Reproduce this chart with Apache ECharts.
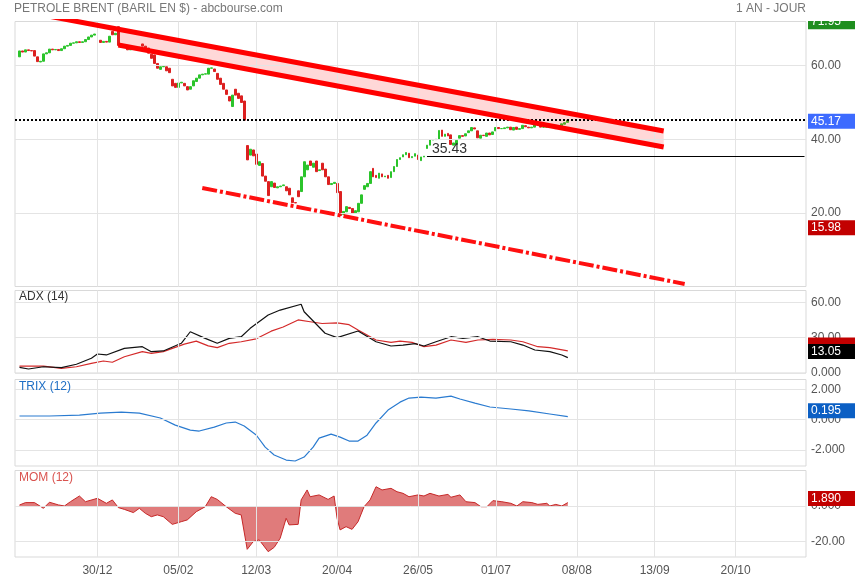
<!DOCTYPE html>
<html><head><meta charset="utf-8">
<script src="https://cdn.jsdelivr.net/npm/echarts@6/dist/echarts.min.js"></script>
<style>html,body{margin:0;padding:0;background:#fff}#c{width:855px;height:580px}</style>
</head><body><div id="c"></div>
<script>
// ---------- DATA ----------
const barCount = 264;               // daily slots on the axis (weekdays)
const firstIndex = 1;               // slot of the first candle
const dateTicks = [[27,'30/12'],[54,'05/02'],[80,'12/03'],[107,'20/04'],[134,'26/05'],[160,'01/07'],[187,'08/08'],[213,'13/09'],[240,'20/10']];
// [open, close, low, high]
const candles = [
[62.4,64.0,62.2,64.3],[64.0,63.7,63.4,64.2],[63.7,64.3,63.5,64.6],[64.3,64.1,63.8,64.5],[64.1,64.0,63.6,64.3],
[64.1,62.6,62.4,64.2],[62.4,61.1,60.8,62.6],[61.0,61.2,60.4,62.4],[61.2,63.2,61.0,63.4],[63.2,63.5,62.8,63.9],
[63.5,64.5,63.3,64.8],[64.5,64.3,64.0,64.7],[64.3,64.4,63.9,64.7],[64.4,64.1,63.6,64.6],[64.1,64.6,63.9,64.9],
[64.6,65.3,64.4,65.6],[65.3,65.5,65.0,65.8],[65.5,66.1,65.3,66.3],[66.1,66.2,65.8,66.5],[66.2,66.5,65.9,66.8],
[66.5,66.3,66.0,66.7],[66.3,66.5,66.1,66.8],[66.5,67.1,66.3,67.3],[67.1,67.8,66.9,68.0],[67.8,68.3,67.6,68.6],
[68.3,68.6,68.0,68.9],null,[66.9,66.3,66.0,67.2],[66.3,66.6,66.0,66.9],[66.6,66.4,66.1,67.0],
[66.4,68.0,66.2,68.4],[69.3,68.4,68.1,70.0],[68.4,68.8,68.0,69.3],[70.6,65.5,65.2,71.95],[65.8,65.5,65.1,66.2],
[65.6,65.3,64.9,65.9],[65.3,64.3,64.1,65.5],[64.3,64.5,64.0,64.9],[64.5,64.4,63.9,64.8],[64.4,64.9,64.2,65.1],
[64.9,65.0,64.6,65.4],[65.9,65.3,65.1,66.1],[65.3,64.6,64.3,65.5],[64.8,63.4,63.2,65.0],[63.1,62.0,61.7,63.3],
[62.9,60.6,60.3,63.0],[60.6,59.3,59.0,60.8],[59.0,59.7,58.7,60.0],[59.7,59.8,59.3,60.6],[59.7,58.6,58.3,60.0],
[59.3,58.1,57.8,59.5],[56.3,54.5,54.2,56.6],[55.2,54.1,53.8,55.5],[54.1,55.3,53.9,55.6],[55.3,55.5,55.0,56.0],
[55.2,54.5,54.2,55.5],[54.3,53.4,53.1,54.5],[53.6,54.3,53.4,54.6],[54.5,55.9,54.3,56.1],[55.7,56.6,55.5,56.9],
[56.6,57.5,56.4,57.7],[57.5,57.7,57.2,57.9],[57.7,57.8,57.4,58.1],[57.7,59.3,57.5,59.5],[59.3,59.4,59.0,60.0],
[59.1,58.4,58.2,59.4],[57.9,56.3,56.1,58.1],[56.6,54.9,54.7,56.8],[55.2,53.6,53.3,55.4],[53.4,52.2,51.9,53.6],
[51.6,50.4,49.3,51.8],[48.9,52.0,48.6,52.3],[53.6,52.0,51.7,53.9],[52.5,51.1,50.8,52.8],[51.8,50.0,49.7,52.0],
[50.4,45.2,45.0,50.6],[38.3,34.4,31.2,38.6],[35.7,37.3,35.3,39.8],[37.1,35.5,34.8,38.5],[36.0,33.2,32.0,36.4],
[32.9,33.9,31.5,35.9],[33.4,30.0,29.5,34.0],[30.0,28.6,28.0,30.8],[28.5,24.7,24.5,29.5],[27.1,28.5,24.6,28.8],
[28.1,26.9,25.0,30.0],[26.8,27.1,24.6,27.8],[27.1,27.3,26.6,28.0],[27.4,27.6,26.8,28.5],[27.1,26.0,25.8,27.5],
[26.7,24.9,24.7,27.0],[24.1,22.8,22.6,24.4],[22.8,22.7,22.3,23.6],[26.0,24.4,24.0,26.3],[25.8,29.8,24.5,36.2],
[29.8,33.9,29.4,36.2],[31.7,33.0,31.0,34.5],[34.1,32.9,31.5,34.9],[32.4,33.5,31.8,34.0],[34.1,31.2,30.5,36.9],
[31.5,31.7,31.1,32.0],[33.5,31.7,31.0,33.9],[31.9,29.8,29.5,32.2],[29.8,27.7,27.3,30.0],[27.7,28.0,27.0,28.8],
[28.0,28.3,27.4,29.0],[28.0,25.5,25.1,28.4],[25.8,19.3,18.3,26.0],[19.6,20.4,15.98,21.1],[20.3,21.7,19.9,22.2],
[21.5,21.2,20.5,21.9],[21.2,19.9,19.6,21.5],[20.0,20.6,19.4,21.2],[20.3,22.6,20.1,23.0],[22.6,24.9,22.4,25.4],
[26.4,27.4,25.8,27.7],[27.1,28.0,26.5,28.4],[28.0,31.2,27.8,31.5],[32.1,29.8,29.5,32.4],[30.2,29.6,29.0,30.9],
[29.4,30.8,29.2,31.2],[30.6,29.8,29.4,31.0],[29.8,30.0,29.3,30.5],[30.2,29.4,28.9,30.6],[29.6,31.2,29.4,31.5],
[31.2,32.6,30.9,32.9],[32.6,34.5,32.4,34.9],[34.5,35.0,34.0,35.5],[35.2,35.8,34.8,36.2],[35.8,36.4,35.5,36.8],
[36.2,35.0,34.4,36.3],[35.0,35.3,34.8,35.6],[35.4,36.1,35.1,36.5],[35.7,34.5,34.0,35.9],[34.2,35.2,33.9,35.4],
[35.2,35.4,34.8,35.7],[37.5,38.4,37.2,38.6],[38.4,39.8,38.1,40.0],[39.8,39.9,39.2,40.6],[39.9,40.0,39.3,40.5],
[40.0,42.4,39.8,42.9],[42.5,40.8,40.5,43.2],[40.8,41.4,40.2,41.7],[41.6,40.9,40.4,41.9],[41.2,38.6,38.3,41.4],
[38.4,39.0,37.8,39.9],[38.6,39.7,38.3,40.0],[40.3,41.0,40.0,41.5],[41.0,40.8,40.4,41.3],[40.9,41.5,40.5,41.8],
[41.8,42.3,41.4,42.8],[42.3,43.2,42.0,43.6],[43.1,42.8,42.4,43.8],[42.3,40.4,40.2,42.6],[40.3,41.1,39.8,41.3],
[41.1,41.0,40.5,41.6],[40.8,41.7,40.4,41.9],[41.7,41.2,40.9,42.1],[41.3,42.0,41.0,42.4],[42.3,43.2,42.0,43.5],
[43.2,42.9,42.5,43.4],[42.9,42.9,42.4,43.5],[42.9,43.1,42.6,43.4],[43.1,43.3,42.7,43.6],[43.3,42.6,42.2,43.5],
[42.5,43.2,42.1,43.4],[43.3,42.7,42.5,43.7],[42.7,42.9,42.3,43.1],[42.9,43.8,42.8,44.1],[43.7,43.4,43.0,43.9],
[43.3,43.1,42.8,43.6],[43.1,43.3,42.9,43.7],[43.3,44.3,43.1,44.6],[44.3,44.3,43.8,44.6],[44.3,43.3,43.0,44.5],
[43.3,43.3,42.9,43.6],[43.3,43.4,43.0,43.8],[43.5,43.2,42.9,43.8],[43.3,43.8,43.1,44.0],[43.8,42.9,42.6,43.9],
[42.9,43.3,42.4,43.5],[43.5,44.2,43.4,44.4],[44.1,44.5,43.8,44.8],[44.6,45.17,44.4,46.0]
];
const lastPrice = 45.17, periodHigh = 71.95, periodLow = 15.98;
const refLevel = 35.43, refStart = 137;
const channelUpper = [[0,75.1],[34,69.9],[216,42.26]];
const channelLower = [[34,65.6],[216,37.9]];
const supportLine = [[62,26.77],[223,0.7]];

const adxLine = [[1,4.8],[4,3.4],[9,5.3],[15,4.5],[20,7.4],[25,12.5],[27,16.1],[30,15.3],[36,20.9],[42,22.3],[45,18.1],[49,18.7],[55,25.2],[58,35],[63,29.4],[67,25.2],[71,29.4],[75,30.8],[78,37.9],[84,49.2],[88,53.4],[95,58.3],[96,52],[103,33.7],[107,30],[114,35.6],[120,26.5],[125,22.9],[129,23.7],[133,24.9],[136,22.9],[140,26.5],[145,30.8],[149,29.4],[154,30.8],[158,27.1],[165,26.5],[169,23.7],[173,19.5],[178,18.1],[182,15.3],[184,13.05]];
const adxSignal = [[1,5.9],[9,5.9],[15,4],[20,5.3],[25,8.2],[29,10.2],[32,9.1],[36,13.8],[42,18.1],[45,16.7],[49,18.1],[56,24.5],[60,27.0],[64,23.0],[67,21.5],[71,25.2],[75,26.5],[80,29],[85,35.5],[89,39.0],[94,45.0],[98,43.5],[102,42.0],[107,42.5],[111,41.0],[114,36.5],[120,28],[125,26],[128,27.1],[132,26],[136,22.3],[140,23.7],[145,28],[150,26],[154,28],[159,28.6],[165,28],[169,26.5],[174,22.3],[178,21.5],[184,18.7]];
const trixLine = [[1,0.24],[11,0.24],[21,0.30],[28,0.43],[35,0.50],[41,0.43],[48,0.11],[53,-0.36],[58,-0.69],[61,-0.75],[66,-0.49],[70,-0.22],[73,-0.16],[76,-0.42],[80,-1.01],[83,-1.81],[86,-2.33],[90,-2.66],[93,-2.72],[96,-2.46],[99,-1.81],[101,-1.22],[105,-0.95],[108,-1.15],[111,-1.41],[114,-1.41],[117,-1.02],[120,-0.22],[124,0.63],[128,1.15],[131,1.42],[135,1.48],[140,1.42],[145,1.55],[148,1.36],[153,1.09],[158,0.83],[165,0.70],[171,0.57],[178,0.37],[184,0.195]];
const momLine = [[1,0.56],[3,1.9],[6,1.9],[9,-1.3],[11,2.1],[14,0.6],[16,0],[18,2.4],[21,5.6],[23,2.4],[27,4.3],[30,1.5],[32,3.4],[34,-0.9],[36,-1.9],[39,-3.7],[41,-1.3],[43,-4.1],[45,-6],[47,-5],[49,-6],[52,-10.3],[55,-8.8],[57,-7.8],[60,-3.2],[63,-0.4],[65,5.2],[67,3.7],[70,-0.4],[73,-4.1],[75,-5],[77,-24.3],[79,-20],[81,-19],[84,-25.6],[86,-23.2],[88,-18.1],[90,-6.9],[91,-10.6],[94,-10.3],[95,3.4],[97,9],[98,5.2],[101,6.2],[104,3.7],[106,5.6],[107,-6.9],[108,-13.4],[110,-11.6],[112,-13.1],[114,-8.8],[116,-0.4],[118,3.4],[120,10.8],[122,9],[125,9.9],[127,8],[129,7.1],[131,5.2],[134,6.2],[136,5.6],[138,7.1],[141,5.6],[144,6.5],[145,4.9],[148,6.2],[150,2.4],[153,1.9],[155,-0.4],[157,-0.4],[159,3],[162,2.4],[165,1.5],[167,0],[169,2.4],[172,1.9],[174,0.9],[177,1.5],[178,0],[180,0.9],[182,0],[184,1.89]];

const mainTicks = [20,40,60], adxTicks = [0,30,60], trixTicks = [2,0,-2], momTicks = [0,-20];

// ---------- CHART ----------
const FONT = 'Arial, "Liberation Sans", sans-serif';
const chart = echarts.init(document.getElementById('c'));
const tickMap = new Map(dateTicks);
const cats = Array.from({length: barCount}, (_, i) => String(i));
const slots = Array.from({length: barCount}, (_, i) => {
  const r = candles[i - firstIndex];
  return r ? r : null;
});
const wickData = slots.map(r => r ? [r[2], r[3], r[2], r[3]] : '-');
const bodyData = slots.map(r => r ? [r[0], r[1], Math.min(r[0], r[1]), Math.max(r[0], r[1])] : '-');

const PL = 15, PW = 791;
const grids = [
  {left: PL, width: PW, top: 21.5, height: 265},
  {left: PL, width: PW, top: 290.5, height: 82.5},
  {left: PL, width: PW, top: 379.5, height: 86.5},
  {left: PL, width: PW, top: 470.5, height: 86.5}
].map(g => Object.assign({show: true, borderColor: '#d9d9d9', borderWidth: 1, backgroundColor: 'transparent'}, g));

const yRanges = [[0, 72], [0, 70], [-3.05, 2.64], [-28.6, 19.9]];
const tickSets = [mainTicks, adxTicks, trixTicks, momTicks];
const fmt = v => v === 0 ? '0.000' : v.toPrecision(4);

const xAxes = grids.map((g, k) => ({
  type: 'category', gridIndex: k, data: cats, boundaryGap: true,
  axisLine: {show: false}, axisTick: {show: false}, splitLine: {show: false},
  axisLabel: k === 3 ? {
    show: true, interval: (i) => tickMap.has(i),
    formatter: (v) => tickMap.get(Number(v)) || '',
    color: '#555', fontSize: 12, fontFamily: FONT, margin: 8
  } : {show: false}
}));
const yAxes = grids.map((g, k) => ({
  type: 'value', gridIndex: k, min: yRanges[k][0], max: yRanges[k][1], position: 'right',
  axisLine: {show: false}, axisTick: {show: false}, splitLine: {show: false}, axisLabel: {show: false}
}));

const gridSeries = grids.map((g, k) => ({
  type: 'line', xAxisIndex: k, yAxisIndex: k, data: [[0, null]], silent: true, z: 1,
  symbol: 'none', lineStyle: {opacity: 0},
  markLine: {
    silent: true, symbol: 'none', animation: false,
    lineStyle: {color: '#e4e4e4', width: 1, type: 'solid'},
    label: {show: false},
    data: dateTicks.map(t => ({xAxis: t[0]})).concat(tickSets[k].map(v => ({
      yAxis: v,
      label: {show: true, position: 'end', formatter: fmt(v), color: '#555', fontSize: 12,
              fontFamily: FONT, distance: 5, padding: [0, 0, 6, 0]}
    })))
  }
}));

const GREEN = '#2bc42b', RED = '#dc2020', WICK = '#484848';
const series = gridSeries.concat([
  {type: 'candlestick', xAxisIndex: 0, yAxisIndex: 0, data: wickData, barWidth: 1, z: 2,
   itemStyle: {color: WICK, color0: WICK, borderColor: WICK, borderColor0: WICK, borderWidth: 0}},
  {type: 'candlestick', xAxisIndex: 0, yAxisIndex: 0, data: bodyData, barWidth: 2.4, z: 3,
   itemStyle: {color: GREEN, color0: RED, borderColor: GREEN, borderColor0: RED, borderWidth: 1}},
  {type: 'custom', xAxisIndex: 0, yAxisIndex: 0, z: 4, silent: true, clip: true, data: [0],
   renderItem: (params, api) => {
     const pts = [channelUpper[1], channelUpper[2], channelLower[1], channelLower[0]].map(p => api.coord(p));
     return {type: 'polygon', shape: {points: pts}, style: {fill: 'rgba(255,40,40,0.18)'}};
   }},
  {type: 'line', xAxisIndex: 0, yAxisIndex: 0, data: channelUpper, symbol: 'none', z: 5, clip: true, silent: true,
   lineStyle: {color: '#ff0000', width: 5}},
  {type: 'line', xAxisIndex: 0, yAxisIndex: 0, data: channelLower, symbol: 'none', z: 5, clip: true, silent: true,
   lineStyle: {color: '#ff0000', width: 5}},
  {type: 'line', xAxisIndex: 0, yAxisIndex: 0, data: supportLine, symbol: 'none', z: 5, clip: true, silent: true,
   lineStyle: {color: '#ff1010', width: 4, type: [15, 3, 3, 3]}},
  {type: 'line', xAxisIndex: 0, yAxisIndex: 0, data: [[0, null]], symbol: 'none', z: 6, silent: true,
   markLine: {silent: true, symbol: 'none', animation: false,
     data: [
       {yAxis: lastPrice, lineStyle: {color: '#000', width: 2, type: [2, 2]}, label: {show: false}},
       [{coord: [refStart, refLevel], lineStyle: {color: '#000', width: 1, type: 'solid'},
         label: {show: true, position: 'insideStartTop', formatter: String(refLevel), color: '#333', fontSize: 14, fontFamily: FONT, distance: [5, 0]}},
        {coord: [barCount - 1, refLevel]}]
     ]}},
  {type: 'line', xAxisIndex: 1, yAxisIndex: 1, data: adxSignal, symbol: 'none', z: 3, lineStyle: {color: '#d42a2a', width: 1.2}},
  {type: 'line', xAxisIndex: 1, yAxisIndex: 1, data: adxLine, symbol: 'none', z: 4, lineStyle: {color: '#111', width: 1.2}},
  {type: 'line', xAxisIndex: 2, yAxisIndex: 2, data: trixLine, symbol: 'none', z: 3, lineStyle: {color: '#2a7bd0', width: 1.2}},
  {type: 'line', xAxisIndex: 3, yAxisIndex: 3, data: momLine, symbol: 'none', z: 3, lineStyle: {color: '#c62828', width: 1},
   areaStyle: {color: '#e07b7b', opacity: 1}}
]);

chart.setOption({
  animation: false,
  backgroundColor: '#fff',
  textStyle: {fontFamily: FONT},
  grid: grids, xAxis: xAxes, yAxis: yAxes, series: series
});

// badges & texts
const badges = [
  {axis: 0, value: periodHigh, text: '71.95', color: '#1e8e1e', dy: 0},
  {axis: 0, value: lastPrice, text: '45.17', color: '#3d6bff', dy: 1},
  {axis: 0, value: periodLow, text: '15.98', color: '#c20000', dy: 0},
  {axis: 1, value: 18.7, text: '', color: '#c20000', dy: -6},
  {axis: 1, value: 13.05, text: '13.05', color: '#000000', dy: -6},
  {axis: 2, value: 0.195, text: '0.195', color: '#0b5fc4', dy: -6},
  {axis: 3, value: 1.89, text: '1.890', color: '#c20000', dy: -4}
];
const gfx = [];
badges.forEach((b, i) => {
  const y = chart.convertToPixel({yAxisIndex: b.axis}, b.value) + b.dy;
  gfx.push({type: 'rect', shape: {x: 808, y: y - 7.5, width: 47, height: 15}, style: {fill: b.color}, z: 100 + i});
  if (b.text) gfx.push({type: 'text', x: 811, y: y, z: 100 + i,
    style: {text: b.text, fill: '#fff', font: '12px ' + FONT, textVerticalAlign: 'middle'}});
});
gfx.push({type: 'rect', shape: {x: 807, y: 0, width: 48, height: 21}, style: {fill: '#fff'}, z: 200});
gfx.push({type: 'text', x: 14, y: 9, z: 201, style: {text: 'PETROLE BRENT (BARIL EN $) - abcbourse.com', fill: '#777', font: '12px ' + FONT, textVerticalAlign: 'middle'}});
gfx.push({type: 'text', x: 806, y: 9, z: 201, style: {text: '1 AN - JOUR', fill: '#777', font: '12px ' + FONT, textAlign: 'right', textVerticalAlign: 'middle'}});
gfx.push({type: 'text', x: 19, y: 297, z: 201, style: {text: 'ADX (14)', fill: '#333', font: '12px ' + FONT, textVerticalAlign: 'middle'}});
gfx.push({type: 'text', x: 19, y: 387, z: 201, style: {text: 'TRIX (12)', fill: '#1f6fc5', font: '12px ' + FONT, textVerticalAlign: 'middle'}});
gfx.push({type: 'text', x: 19, y: 478, z: 201, style: {text: 'MOM (12)', fill: '#d9534f', font: '12px ' + FONT, textVerticalAlign: 'middle'}});
chart.setOption({graphic: gfx});
</script></body></html>
